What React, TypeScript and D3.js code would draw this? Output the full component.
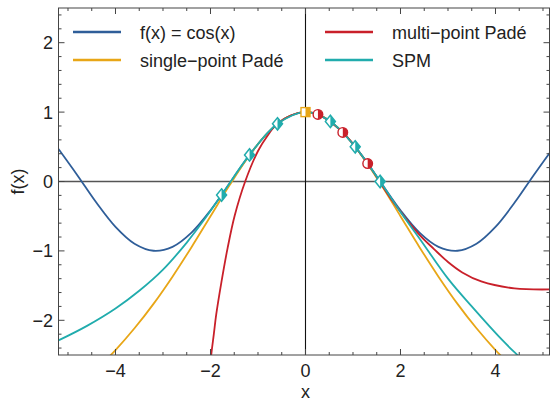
import React, { useEffect, useRef } from "react";
import * as d3 from "d3";

// sample grid used for cos(x) and the single-point Padé curve
const gridX = [
  -5.2, -4.8, -4.4, -4.0, -3.6, -3.2, -2.8, -2.4, -2.0, -1.6, -1.2, -0.8, -0.4, 0,
  0.4, 0.8, 1.2, 1.6, 2.0, 2.4, 2.8, 3.2, 3.6, 4.0, 4.4, 4.8, 5.2,
];
const cosY = [
  0.468, 0.087, -0.307, -0.654, -0.897, -0.998, -0.942, -0.737, -0.416, -0.029, 0.362, 0.697, 0.921, 1,
  0.921, 0.697, 0.362, -0.029, -0.416, -0.737, -0.942, -0.998, -0.897, -0.654, -0.307, 0.087, 0.468,
];
const padeY = [
  -3.156, -2.945, -2.704, -2.429, -2.115, -1.763, -1.371, -0.946, -0.5, -0.055, 0.357, 0.696, 0.921, 1,
  0.921, 0.696, 0.357, -0.055, -0.5, -0.946, -1.371, -1.763, -2.115, -2.429, -2.704, -2.945, -3.156,
];

// multi-point Padé (red)
const multiX = [
  -2.03, -1.985, -1.93, -1.88, -1.77, -1.64, -1.49, -1.27, -1.0, -0.8, -0.6, -0.3, 0,
  0.262, 0.785, 1.309, 1.8, 2.4, 2.7, 3.0, 3.3, 3.7, 4.4, 5.2,
];
const multiY = [
  -2.8, -2.5, -2.2, -1.92, -1.45, -0.96, -0.49, 0, 0.44, 0.66, 0.83, 0.955, 1,
  0.966, 0.707, 0.259, -0.25, -0.77, -0.97, -1.16, -1.31, -1.44, -1.54, -1.555,
];

// SPM (teal)
const spmX = [
  -5.2, -4.6, -4.0, -3.5, -3.0, -2.5, -2.1, -1.767, -1.178, -0.589, 0,
  0.524, 1.047, 1.571, 2.0, 2.4, 3.0, 3.5, 4.135, 4.46, 4.8,
];
const spmY = [
  -2.29, -2.08, -1.83, -1.575, -1.27, -0.88, -0.52, -0.195, 0.383, 0.831, 1,
  0.866, 0.5, 0, -0.44, -0.82, -1.4, -1.8, -2.28, -2.5, -2.72,
];

// interpolation nodes
const padeNodeX = [0];
const padeNodeY = [1];
const multiNodeX = [0.262, 0.785, 1.309];
const multiNodeY = [0.966, 0.707, 0.259];
const spmNodeX = [-1.767, -1.178, -0.589, 0.524, 1.047, 1.571];
const spmNodeY = [-0.195, 0.383, 0.831, 0.866, 0.5, 0];

const legendLabels = ["f(x) = cos(x)", "single\u2212point Padé", "multi\u2212point Padé", "SPM"];
const xTicks = [-4, -2, 0, 2, 4];
const yTicks = [-2, -1, 0, 1, 2];

const BLUE = "#2f5e99";
const YELLOW = "#e8a617";
const RED = "#c9202a";
const TEAL = "#21acad";
const FONT = "'Liberation Sans', Arial, sans-serif";

const App = () => {
  const ref = useRef<SVGSVGElement>(null);

  useEffect(() => {
    document.body.style.margin = "0";
    const width = 550,
      height = 402;
    const left = 58.5,
      right = 549.5,
      top = 8,
      bottom = 355;

    const svg = d3.select(ref.current).attr("width", width).attr("height", height);
    svg.selectAll("*").remove();

    const x = d3.scaleLinear().domain([-5.2, 5.137]).range([left, right]);
    const y = d3.scaleLinear().domain([-2.5, 2.5]).range([bottom, top]);

    svg
      .append("defs")
      .append("clipPath")
      .attr("id", "plot-clip")
      .append("rect")
      .attr("x", left)
      .attr("y", top)
      .attr("width", right - left)
      .attr("height", bottom - top);

    // axes through the origin
    svg
      .append("line")
      .attr("x1", left)
      .attr("x2", right)
      .attr("y1", y(0))
      .attr("y2", y(0))
      .attr("stroke", "#555")
      .attr("stroke-width", 1.6);
    svg
      .append("line")
      .attr("x1", x(0))
      .attr("x2", x(0))
      .attr("y1", top)
      .attr("y2", bottom)
      .attr("stroke", "#111")
      .attr("stroke-width", 1.1);

    const plot = svg.append("g").attr("clip-path", "url(#plot-clip)");

    const line = d3
      .line<[number, number]>()
      .x((d) => x(d[0]))
      .y((d) => y(d[1]))
      .curve(d3.curveCatmullRom.alpha(0.5));

    const zip = (xs: number[], ys: number[]) => xs.map((v, i) => [v, ys[i]] as [number, number]);

    const series = [
      { data: zip(gridX, cosY), color: BLUE },
      { data: zip(gridX, padeY), color: YELLOW },
      { data: zip(multiX, multiY), color: RED },
      { data: zip(spmX, spmY), color: TEAL },
    ];
    series.forEach((s) => {
      plot
        .append("path")
        .datum(s.data)
        .attr("d", line)
        .attr("fill", "none")
        .attr("stroke", s.color)
        .attr("stroke-width", 1.8);
    });

    // half-filled markers
    const mk = svg.append("g");
    zip(spmNodeX, spmNodeY).forEach(([vx, vy]) => {
      const cx = x(vx),
        cy = y(vy),
        w = 5,
        h = 6.2;
      mk.append("path")
        .attr("d", `M${cx},${cy - h}L${cx + w},${cy}L${cx},${cy + h}L${cx - w},${cy}Z`)
        .attr("fill", "white")
        .attr("stroke", TEAL)
        .attr("stroke-width", 1.5);
      mk.append("path")
        .attr("d", `M${cx},${cy - h}L${cx + w},${cy}L${cx},${cy + h}Z`)
        .attr("fill", TEAL);
    });
    zip(multiNodeX, multiNodeY).forEach(([vx, vy]) => {
      const cx = x(vx),
        cy = y(vy),
        r = 4.8;
      mk.append("circle")
        .attr("cx", cx)
        .attr("cy", cy)
        .attr("r", r)
        .attr("fill", "white")
        .attr("stroke", RED)
        .attr("stroke-width", 1.4);
      mk.append("path")
        .attr("d", `M${cx},${cy - r}A${r},${r} 0 0 1 ${cx},${cy + r}Z`)
        .attr("fill", RED);
    });
    zip(padeNodeX, padeNodeY).forEach(([vx, vy]) => {
      const cx = x(vx),
        cy = y(vy),
        s = 4.5;
      mk.append("rect")
        .attr("x", cx - s)
        .attr("y", cy - s)
        .attr("width", 2 * s)
        .attr("height", 2 * s)
        .attr("fill", "white")
        .attr("stroke", YELLOW)
        .attr("stroke-width", 1.4);
      mk.append("rect")
        .attr("x", cx)
        .attr("y", cy - s)
        .attr("width", s)
        .attr("height", 2 * s)
        .attr("fill", YELLOW);
    });

    // frame with inward ticks on all four sides
    const frame = svg.append("g").attr("stroke", "#444").attr("stroke-width", 1);
    frame
      .append("rect")
      .attr("x", left)
      .attr("y", top)
      .attr("width", right - left)
      .attr("height", bottom - top)
      .attr("fill", "none");

    const xMinor = d3.range(-5, 5.01, 0.5).filter((v) => Math.abs(v % 2) > 1e-6);
    const yMinor = d3.range(-2.4, 2.41, 0.2).filter((v) => Math.abs(v - Math.round(v)) > 1e-6);

    const xt = (v: number, len: number) => {
      frame.append("line").attr("x1", x(v)).attr("x2", x(v)).attr("y1", bottom).attr("y2", bottom - len);
      frame.append("line").attr("x1", x(v)).attr("x2", x(v)).attr("y1", top).attr("y2", top + len);
    };
    const yt = (v: number, len: number) => {
      frame.append("line").attr("x1", left).attr("x2", left + len).attr("y1", y(v)).attr("y2", y(v));
      frame.append("line").attr("x1", right).attr("x2", right - len).attr("y1", y(v)).attr("y2", y(v));
    };
    xTicks.forEach((v) => xt(v, 6));
    xMinor.forEach((v) => xt(v, 3));
    yTicks.forEach((v) => yt(v, 6));
    yMinor.forEach((v) => yt(v, 3));

    const fmt = (v: number) => (v < 0 ? "\u2212" + Math.abs(v) : String(v));

    svg
      .append("g")
      .selectAll("text")
      .data(xTicks)
      .enter()
      .append("text")
      .attr("x", (d) => x(d))
      .attr("y", 377)
      .attr("text-anchor", "middle")
      .attr("font-family", FONT)
      .attr("font-size", 18)
      .attr("fill", "#222")
      .text(fmt);

    svg
      .append("g")
      .selectAll("text")
      .data(yTicks)
      .enter()
      .append("text")
      .attr("x", 53)
      .attr("y", (d) => y(d) + 6.5)
      .attr("text-anchor", "end")
      .attr("font-family", FONT)
      .attr("font-size", 18)
      .attr("fill", "#222")
      .text(fmt);

    svg
      .append("text")
      .attr("x", x(0))
      .attr("y", 398)
      .attr("text-anchor", "middle")
      .attr("font-family", FONT)
      .attr("font-size", 18)
      .attr("fill", "#222")
      .text("x");

    svg
      .append("text")
      .attr("transform", `translate(24,${y(0)}) rotate(-90)`)
      .attr("text-anchor", "middle")
      .attr("font-family", FONT)
      .attr("font-size", 18)
      .attr("fill", "#222")
      .text("f(x)");

    // legend
    const legendColors = [BLUE, YELLOW, RED, TEAL];
    const legendPos = [
      [73, 32],
      [73, 60],
      [325, 32],
      [325, 60],
    ];
    legendLabels.forEach((label, i) => {
      const [lx, ly] = legendPos[i];
      svg
        .append("line")
        .attr("x1", lx)
        .attr("x2", lx + 48)
        .attr("y1", ly)
        .attr("y2", ly)
        .attr("stroke", legendColors[i])
        .attr("stroke-width", 2.4);
      svg
        .append("text")
        .attr("x", lx + 67)
        .attr("y", ly + 6.5)
        .attr("font-family", FONT)
        .attr("font-size", 18)
        .attr("fill", "#222")
        .text(label);
    });
  }, []);

  return <svg ref={ref} style={{ display: "block" }}></svg>;
};

export default App;
